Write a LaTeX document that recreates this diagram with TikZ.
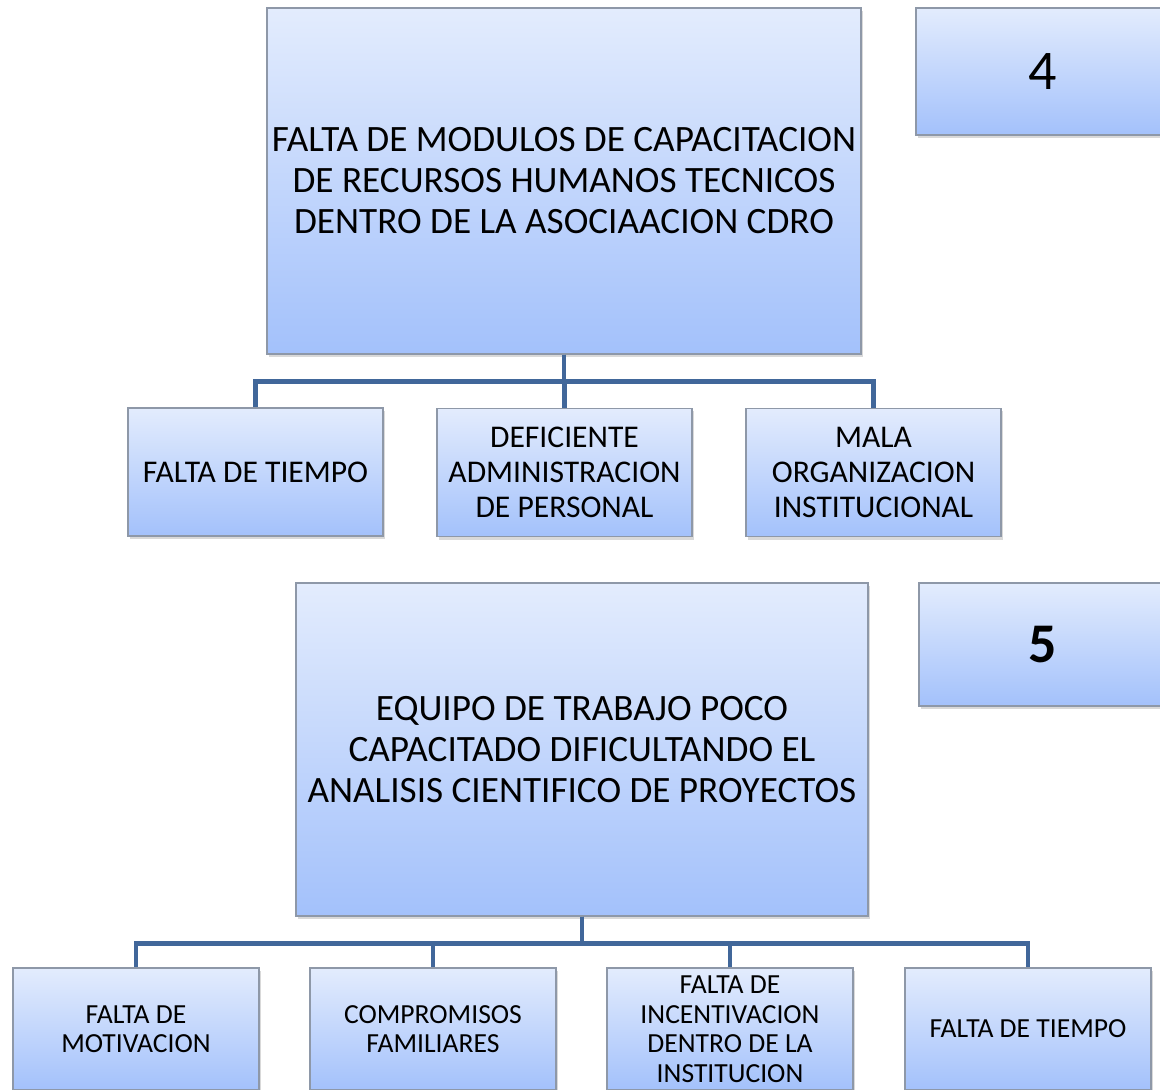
\documentclass[tikz,border=0pt]{standalone}
\usepackage{fontspec}
\setmainfont{Carlito}
\usetikzlibrary{shadows}
\definecolor{boxtop}{HTML}{E3ECFD}
\definecolor{boxbot}{HTML}{A3C1FB}
\definecolor{boxline}{HTML}{8E98A8}
\definecolor{linkblue}{HTML}{41679A}

\begin{document}
\begin{tikzpicture}[x = 0.5pt, y = -0.5pt,
    box/.style = {draw=boxline, line width=0.6pt, top color=boxtop, bottom color=boxbot,
      align=center, inner sep=0pt,
      drop shadow={shadow xshift=1.2pt, shadow yshift=-1.5pt, opacity=0.3}},
    link/.style = {draw=linkblue, line width=2.2pt}]
    \useasboundingbox (0,0) rectangle (1160,1090);
    \node [box, minimum width=297pt, minimum height=173pt, font=\fontsize{18.6}{20.5}\selectfont] (p4) at (564,181)
      {FALTA DE MODULOS DE CAPACITACION\\ DE RECURSOS HUMANOS TECNICOS\\ DENTRO DE LA ASOCIAACION CDRO};
    \node [box, minimum width=127pt, minimum height=63.5pt, font=\fontsize{28}{30}\selectfont] (n4) at (1043,71.5) {4};
    \node [box, minimum width=127.5pt, minimum height=64pt, font=\fontsize{15.8}{17.5}\selectfont] (c41) at (255.5,472) {FALTA DE TIEMPO};
    \node [box, minimum width=127.5pt, minimum height=64pt, font=\fontsize{15.8}{17.5}\selectfont] (c42) at (564.5,472.5) {DEFICIENTE\\ ADMINISTRACION\\ DE PERSONAL};
    \node [box, minimum width=127.5pt, minimum height=64pt, font=\fontsize{15.8}{17.5}\selectfont] (c43) at (873.5,472.5) {MALA\\ ORGANIZACION\\ INSTITUCIONAL};
    \foreach \c in {c41,c42,c43}
      \draw [link] (p4.south) -- ++(0,27) -| (\c.north);

    \node [box, minimum width=286pt, minimum height=166.5pt, font=\fontsize{18.6}{20.5}\selectfont] (p5) at (582,749.5)
      {EQUIPO DE TRABAJO POCO\\ CAPACITADO DIFICULTANDO EL\\ ANALISIS CIENTIFICO DE PROYECTOS};
    \node [box, minimum width=123.5pt, minimum height=61.5pt, font=\fontsize{28}{30}\selectfont\bfseries] (n5) at (1042.5,644.5) {5};
    \node [box, minimum width=123pt, minimum height=61pt, font=\fontsize{13.8}{14.75}\selectfont] (c51) at (136,1029) {FALTA DE\\ MOTIVACION};
    \node [box, minimum width=123pt, minimum height=61pt, font=\fontsize{13.8}{14.75}\selectfont] (c52) at (433,1029) {COMPROMISOS\\ FAMILIARES};
    \node [box, minimum width=123pt, minimum height=61pt, font=\fontsize{13.8}{14.75}\selectfont] (c53) at (730,1029) {FALTA DE\\ INCENTIVACION\\ DENTRO DE LA\\ INSTITUCION};
    \node [box, minimum width=123pt, minimum height=61pt, font=\fontsize{13.8}{14.75}\selectfont] (c54) at (1028,1029) {FALTA DE TIEMPO};
    \foreach \c in {c51,c52,c53,c54}
      \draw [link] (p5.south) -- ++(0,27) -| (\c.north);
  \end{tikzpicture}
\end{document}
